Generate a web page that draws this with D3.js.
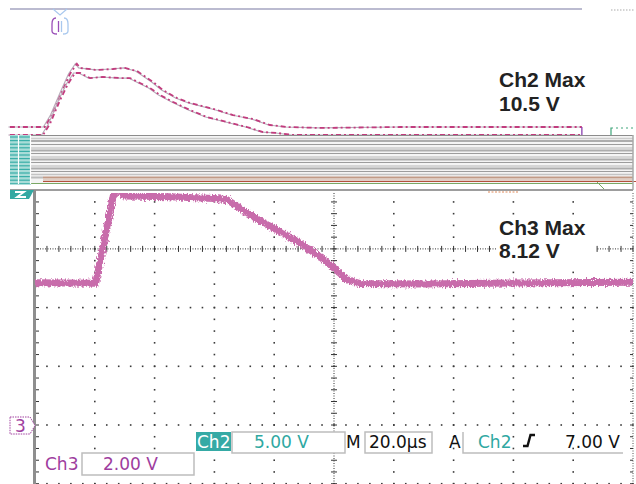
<!DOCTYPE html>
<html><head><meta charset="utf-8">
<script src="https://cdn.jsdelivr.net/npm/d3@7"></script>
<style>html,body{margin:0;padding:0;background:#fff;}svg{display:block;}</style>
</head><body>
<svg id="chart" width="636" height="484"></svg>
<script>
// Ch2 max/min envelope (time in µs, volts)
const ch2UpperTime  = [-8.4, 3.3, 5.7, 9.0, 11.7, 14.0, 15.1, 20.7, 26.1, 30.1, 34.1, 36.1, 39.5, 42.8, 47.5, 51.8, 60.9, 66.2, 72.9, 78.6, 84.3, 95.3, 122.1, 148.8, 182.9];
const ch2UpperVolts = [5.11, 5.11, 6.13, 8.09, 9.63, 10.5, 10.14, 9.97, 10.05, 10.14, 9.88, 9.54, 8.94, 8.26, 7.58, 7.16, 6.56, 6.13, 5.79, 5.28, 5.11, 5.03, 5.11, 5.11, 5.11];
const ch2LowerTime  = [-8.4, 2.7, 5.0, 8.4, 11.0, 13.4, 15.1, 18.4, 22.7, 28.4, 31.8, 35.1, 38.5, 41.8, 46.2, 51.8, 57.5, 64.2, 70.9, 76.3, 81.0, 86.3, 120.0, 150.0, 182.9];
const ch2LowerVolts = [4.43, 4.43, 5.37, 7.41, 8.77, 9.71, 9.71, 9.28, 9.37, 9.28, 9.28, 8.86, 8.43, 7.84, 7.24, 6.56, 5.96, 5.54, 5.11, 4.68, 4.60, 4.43, 4.43, 4.43, 4.43];

// Ch3 acquisition (time in µs, volts)
const ch3Time  = [0, 10, 20.3, 26.8, 30, 45, 60, 64.2, 68.6, 75.3, 80.3, 88.6, 95.3, 100, 104.3, 108.7, 130, 160, 200];
const ch3Volts = [4.85, 4.84, 4.83, 8.12, 7.80, 7.78, 7.72, 7.68, 7.39, 6.95, 6.68, 6.20, 5.73, 5.35, 4.95, 4.82, 4.80, 4.84, 4.86];

// Readouts
const ch2MaxText = ["Ch2 Max", "10.5 V"];
const ch3MaxText = ["Ch3 Max", "8.12 V"];
const ch3ScaleText = "2.00 V";
const ch2ScaleText = "5.00 V";
const timebaseText = "20.0µs";
const triggerText  = "7.00 V";

// Graticule
const timeMajor = d3.range(0, 200.01, 20);
const timeMinor = d3.range(0, 200.01, 4);
const voltMajor = [8, 6, 4, 2, 0, -2];
const voltMinor = d3.range(-2, 8.01, 0.4);

const svg = d3.select("#chart");
const x  = d3.scaleLinear().domain([0, 200]).range([35, 633]);
const y3 = d3.scaleLinear().domain([0, 8]).range([425, 425 - 8 * 29.35]);
const y2 = d3.scaleLinear().domain([0, 5]).range([187, 187 - 58.7]);

const defs = svg.append("defs");
defs.append("clipPath").attr("id", "plotClip")
  .append("rect").attr("x", 35).attr("y", 193).attr("width", 598).attr("height", 300);
const f = defs.append("filter").attr("id", "rough")
  .attr("filterUnits", "userSpaceOnUse").attr("x", 0).attr("y", 150).attr("width", 636).attr("height", 334);
f.append("feTurbulence").attr("type", "fractalNoise").attr("baseFrequency", "0.9 0.35")
  .attr("numOctaves", 2).attr("seed", 4).attr("result", "n");
f.append("feDisplacementMap").attr("in", "SourceGraphic").attr("in2", "n")
  .attr("scale", 6).attr("xChannelSelector", "R").attr("yChannelSelector", "G");

// ---- top strip: trigger position marker and header rule ----
svg.append("line").attr("x1", 10).attr("x2", 582).attr("y1", 9).attr("y2", 9)
  .attr("stroke", "#a4a4c0").attr("stroke-width", 1.5);
svg.append("line").attr("x1", 611).attr("x2", 634).attr("y1", 10).attr("y2", 10)
  .attr("stroke", "#aaa").attr("stroke-width", 1.2).attr("stroke-dasharray", "1.5,1.5");
svg.append("path").attr("d", "M53,9 L60,15 L67,9").attr("fill", "none")
  .attr("stroke", "#a9c8ee").attr("stroke-width", 1.2);
svg.append("path").attr("d", "M56,18 Q52,18 52,24 L52,31 Q52,34 57,34").attr("fill", "none")
  .attr("stroke", "#9a4fb8").attr("stroke-width", 1.3);
svg.append("path").attr("d", "M64,18 Q68,18 68,24 L68,31 Q68,34 63,34").attr("fill", "none")
  .attr("stroke", "#a9c8ee").attr("stroke-width", 1.3);
svg.append("line").attr("x1", 58.5).attr("x2", 58.5).attr("y1", 21).attr("y2", 32)
  .attr("stroke", "#9a4fb8").attr("stroke-width", 1.3);
svg.append("line").attr("x1", 61.5).attr("x2", 61.5).attr("y1", 21).attr("y2", 32)
  .attr("stroke", "#a9c8ee").attr("stroke-width", 1.3);

// ---- Ch2 envelope traces ----
function ch2Line(times, volts) {
  return d3.line().x((d, i) => x(times[i])).y((d, i) => y2(volts[i]))(times);
}
[[ch2UpperTime, ch2UpperVolts], [ch2LowerTime, ch2LowerVolts]].forEach(([t, v]) => {
  const d = ch2Line(t, v);
  svg.append("path").attr("d", d).attr("fill", "none")
    .attr("stroke", "#b9aebb").attr("stroke-width", 1.2).attr("transform", "translate(-1.5,0)");
  svg.append("path").attr("d", d).attr("fill", "none")
    .attr("stroke", "#c23c7e").attr("stroke-width", 1.8).attr("stroke-dasharray", "5,3,2,3");
});
svg.append("line").attr("x1", x(182.9)).attr("x2", x(182.9))
  .attr("y1", y2(5.11)).attr("y2", y2(4.43)).attr("stroke", "#8a3fb0").attr("stroke-width", 1.3);
svg.append("path").attr("d", "M613,128 L611,128 L611,136 L613,136").attr("fill", "none")
  .attr("stroke", "#3ea57a").attr("stroke-width", 1.2);
svg.append("line").attr("x1", 616).attr("x2", 636).attr("y1", 128).attr("y2", 128)
  .attr("stroke", "#3ea57a").attr("stroke-width", 1).attr("stroke-dasharray", "2,3");
svg.append("line").attr("x1", 616).attr("x2", 636).attr("y1", 136).attr("y2", 136)
  .attr("stroke", "#3ea57a").attr("stroke-width", 1).attr("stroke-dasharray", "2,3");

// ---- menu band ----
const band = svg.append("g");
band.append("rect").attr("x", 10).attr("y", 135).attr("width", 623).attr("height", 49).attr("fill", "#f4f4f4");
const bandLines = [
  [135.5, "#8c8c8c", 1.2], [138.5, "#cccccc", 1.5], [141, "#adadad", 2], [144.5, "#9c9c9c", 1],
  [148, "#cccccc", 1.5], [150.5, "#adadad", 2], [153.5, "#9c9c9c", 1], [157, "#cccccc", 1.5],
  [159.5, "#adadad", 2], [162.5, "#9c9c9c", 1], [166, "#cccccc", 1.5], [168.5, "#adadad", 2],
  [171.5, "#9c9c9c", 1], [174.5, "#c4c4c4", 1.5]
];
bandLines.forEach(([yy, c, w]) => band.append("line").attr("x1", 10).attr("x2", 633)
  .attr("y1", yy).attr("y2", yy).attr("stroke", c).attr("stroke-width", w));
band.append("line").attr("x1", 10).attr("x2", 43).attr("y1", 177.5).attr("y2", 177.5).attr("stroke", "#bbb").attr("stroke-width", 2);
band.append("line").attr("x1", 43).attr("x2", 633).attr("y1", 177.5).attr("y2", 177.5).attr("stroke", "#c19a86").attr("stroke-width", 2);
band.append("line").attr("x1", 43).attr("x2", 633).attr("y1", 180).attr("y2", 180).attr("stroke", "#d8c2b4").attr("stroke-width", 1.5);
band.append("line").attr("x1", 43).attr("x2", 636).attr("y1", 181.5).attr("y2", 181.5).attr("stroke", "#b4503c").attr("stroke-width", 1);
band.append("line").attr("x1", 10).attr("x2", 633).attr("y1", 183.5).attr("y2", 183.5).attr("stroke", "#7aa864").attr("stroke-width", 1);
band.append("rect").attr("x", 10).attr("y", 135).attr("width", 21).attr("height", 49).attr("fill", "#a9dcd8");
d3.range(137, 184, 3.6).forEach(yy => band.append("line").attr("x1", 10).attr("x2", 31)
  .attr("y1", yy).attr("y2", yy).attr("stroke", "#3aaea8").attr("stroke-width", 1.2));
[18.5, 30.5].forEach(xx => band.append("line").attr("x1", xx).attr("x2", xx)
  .attr("y1", 135).attr("y2", 184).attr("stroke", "#fff").attr("stroke-width", 1.2));
band.append("line").attr("x1", 633).attr("x2", 633).attr("y1", 135).attr("y2", 190).attr("stroke", "#aaa").attr("stroke-width", 1.5);
svg.append("line").attr("x1", 597).attr("x2", 605).attr("y1", 182).attr("y2", 190).attr("stroke", "#7aa864").attr("stroke-width", 1);
svg.append("line").attr("x1", 488).attr("x2", 518).attr("y1", 192).attr("y2", 192)
  .attr("stroke", "#e08a5a").attr("stroke-width", 1.2).attr("stroke-dasharray", "2,1.5");

// ---- graticule ----
const grid = svg.append("g");
grid.append("line").attr("x1", 10).attr("x2", 633).attr("y1", 190).attr("y2", 190)
  .attr("stroke", "#9d9d9d").attr("stroke-width", 2);
const vMinorVis = voltMinor.filter(v => y3(v) > 193 && y3(v) < 484);
const tMinorVis = timeMinor;
// dots along vertical gridlines
timeMajor.filter(t => t !== 0 && t !== 100 && t !== 200).forEach(t => {
  vMinorVis.forEach(v => grid.append("rect").attr("x", x(t) - 0.8).attr("y", y3(v) - 0.8)
    .attr("width", 1.6).attr("height", 1.6).attr("fill", "#3a3a3a"));
});
// dots along horizontal gridlines
voltMajor.filter(v => v !== 6 && y3(v) > 193).forEach(v => {
  tMinorVis.forEach(t => grid.append("rect").attr("x", x(t) - 0.8).attr("y", y3(v) - 0.8)
    .attr("width", 1.6).attr("height", 1.6).attr("fill", "#3a3a3a"));
});
// center cross with minor ticks
grid.append("line").attr("x1", 35).attr("x2", 633).attr("y1", y3(6)).attr("y2", y3(6))
  .attr("stroke", "#333").attr("stroke-width", 1).attr("stroke-dasharray", "1,1.5");
tMinorVis.forEach(t => grid.append("line").attr("x1", x(t)).attr("x2", x(t))
  .attr("y1", y3(6) - 3).attr("y2", y3(6) + 3).attr("stroke", "#333").attr("stroke-width", 1));
grid.append("line").attr("x1", x(100)).attr("x2", x(100)).attr("y1", 193).attr("y2", 484)
  .attr("stroke", "#333").attr("stroke-width", 1).attr("stroke-dasharray", "1,1.5");
vMinorVis.forEach(v => grid.append("line").attr("x1", x(100) - 3).attr("x2", x(100) + 3)
  .attr("y1", y3(v)).attr("y2", y3(v)).attr("stroke", "#333").attr("stroke-width", 1));
// frame edges
grid.append("line").attr("x1", 34.5).attr("x2", 34.5).attr("y1", 190).attr("y2", 484)
  .attr("stroke", "#8e8e8e").attr("stroke-width", 3);
vMinorVis.forEach(v => grid.append("line").attr("x1", 36).attr("x2", 39)
  .attr("y1", y3(v)).attr("y2", y3(v)).attr("stroke", "#333").attr("stroke-width", 1));
grid.append("line").attr("x1", 633).attr("x2", 633).attr("y1", 193).attr("y2", 484)
  .attr("stroke", "#555").attr("stroke-width", 1).attr("stroke-dasharray", "1,1.5");
vMinorVis.forEach(v => grid.append("line").attr("x1", 630).attr("x2", 633)
  .attr("y1", y3(v)).attr("y2", y3(v)).attr("stroke", "#333").attr("stroke-width", 1));

// Ch2 ground marker
svg.append("path").attr("d", "M10,190 L34,190 L29,199 L10,199 Z").attr("fill", "#33a9a3");
svg.append("path").attr("d", "M15,192 L24,192 L17,197 L26,197").attr("fill", "none")
  .attr("stroke", "#fff").attr("stroke-width", 1.8);

// ---- Ch3 trace ----
const ch3Path = d3.line().x((d, i) => x(ch3Time[i])).y((d, i) => y3(ch3Volts[i]))(ch3Time);
svg.append("g").attr("clip-path", "url(#plotClip)")
  .append("path").attr("d", ch3Path).attr("fill", "none")
  .attr("stroke", "#c86cab").attr("stroke-width", 7).attr("stroke-linejoin", "round")
  .attr("filter", "url(#rough)");

// ---- measurement readouts ----
svg.append("rect").attr("x", 496).attr("y", 216).attr("width", 100).attr("height", 48).attr("fill", "#fff");
const big = svg.append("g").attr("font-family", "'Liberation Sans', Arial, sans-serif")
  .attr("font-weight", "bold").attr("font-size", 21).attr("fill", "#222");
big.append("text").attr("x", 499).attr("y", 87).text(ch2MaxText[0]);
big.append("text").attr("x", 499).attr("y", 111).text(ch2MaxText[1]);
big.append("text").attr("x", 499).attr("y", 235).text(ch3MaxText[0]);
big.append("text").attr("x", 499).attr("y", 258).text(ch3MaxText[1]);

// ---- status line: boxes first, then their text ----
const boxes = svg.append("g");
boxes.append("path").attr("d", "M10,417 L30,417 L35,425.5 L30,434 L10,434 Z").attr("fill", "#fff")
  .attr("stroke", "#a0409f").attr("stroke-width", 1).attr("stroke-dasharray", "1.5,1");
boxes.append("rect").attr("x", 82).attr("y", 453).attr("width", 112).attr("height", 22)
  .attr("fill", "#fff").attr("stroke", "#bdbdbd").attr("stroke-width", 1.5);
boxes.append("rect").attr("x", 196).attr("y", 432).attr("width", 35).attr("height", 19).attr("fill", "#35aaa5");
boxes.append("rect").attr("x", 232).attr("y", 432).attr("width", 113).attr("height", 21)
  .attr("fill", "#fff").attr("stroke", "#bdbdbd").attr("stroke-width", 1.5);
boxes.append("rect").attr("x", 365).attr("y", 432).attr("width", 67).attr("height", 21)
  .attr("fill", "#fff").attr("stroke", "#bdbdbd").attr("stroke-width", 1.5);
boxes.append("path").attr("d", "M463,432 L463,453 L623,453").attr("fill", "none")
  .attr("stroke", "#bdbdbd").attr("stroke-width", 1.5);
boxes.append("path").attr("d", "M523,446 L527.5,446 L530.5,435 L535,435").attr("fill", "none")
  .attr("stroke", "#111").attr("stroke-width", 2.4);

const ro = svg.append("g").attr("font-family", "'DejaVu Sans', sans-serif").attr("font-size", 17);
ro.append("text").attr("x", 15).attr("y", 432).attr("fill", "#a0409f").text("3");
ro.append("text").attr("x", 45).attr("y", 470).attr("fill", "#9e3d9e").text("Ch3");
ro.append("text").attr("x", 103).attr("y", 470).attr("fill", "#9e3d9e").text(ch3ScaleText);
ro.append("text").attr("x", 197).attr("y", 448).attr("fill", "#fff").text("Ch2");
ro.append("text").attr("x", 254).attr("y", 448).attr("fill", "#2fa8a2").text(ch2ScaleText);
ro.append("text").attr("x", 346).attr("y", 448).attr("fill", "#111").text("M");
ro.append("text").attr("x", 369).attr("y", 448).attr("fill", "#111").text(timebaseText);
ro.append("text").attr("x", 449).attr("y", 448).attr("fill", "#111").text("A");
ro.append("text").attr("x", 478).attr("y", 448).attr("fill", "#2fa8a2").text("Ch2");
ro.append("text").attr("x", 565).attr("y", 448).attr("fill", "#111").text(triggerText);
</script>
</body></html>
